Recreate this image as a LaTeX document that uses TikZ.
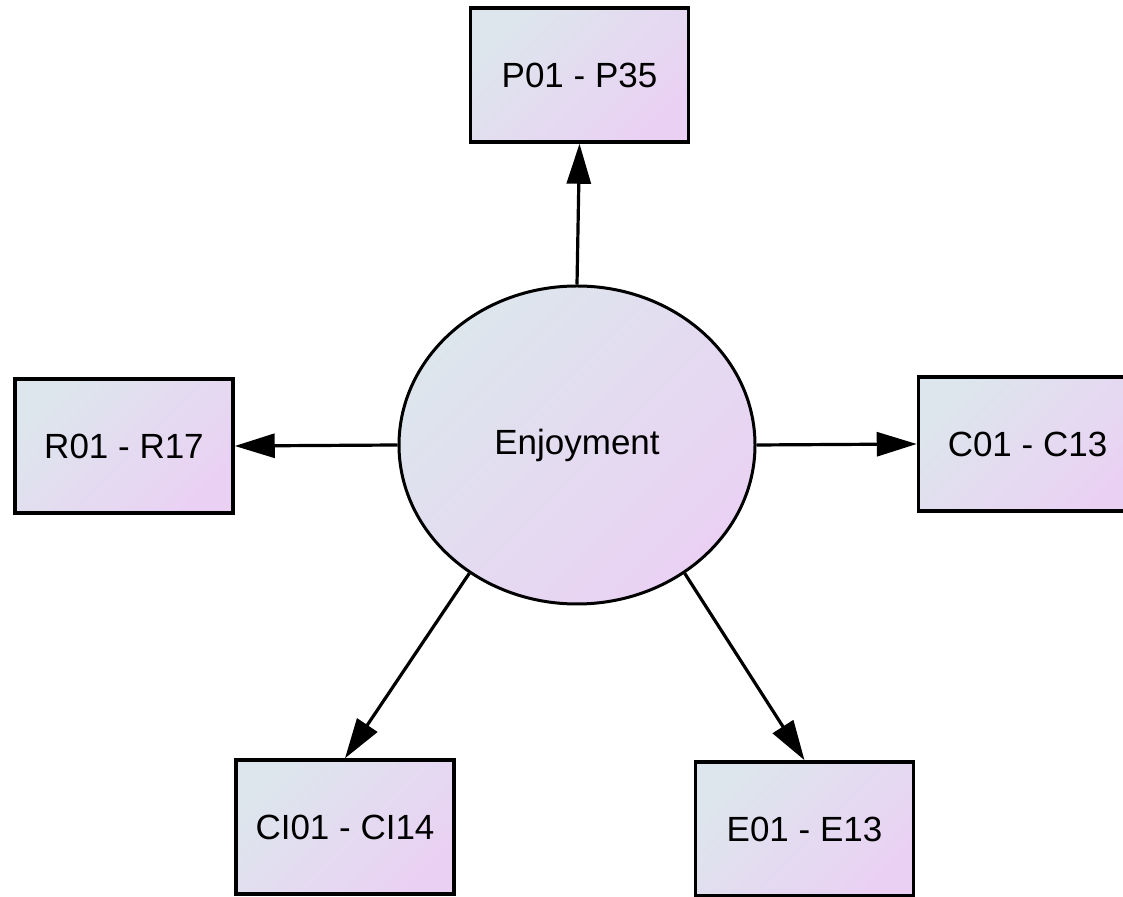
\documentclass[tikz,border=0pt]{standalone}
\usepackage{fontspec}
\setmainfont{Liberation Sans}
\usetikzlibrary{shapes.geometric,arrows.meta}
\definecolor{fillA}{RGB}{221,230,236}
\definecolor{fillB}{RGB}{234,209,244}
\tikzset{
  gradfill/.style={left color=fillA, right color=fillB, shading angle=45},
  itembox/.style={rectangle, draw=black, line width=3.5pt, gradfill, minimum width=218pt, minimum height=134pt, inner sep=0pt, font=\fontsize{35}{42}\selectfont},
  latent/.style={ellipse, draw=black, line width=3pt, gradfill, minimum width=356pt, minimum height=318pt, inner sep=0pt, font=\fontsize{35}{42}\selectfont},
  conn/.style={line width=3.2pt, -{Triangle[length=40pt,width=24pt]}}
}
\begin{document}
\begin{tikzpicture}[x=1pt,y=1pt]
\clip (0,0) rectangle (1123,896);
\fill[white] (0,0) rectangle (1123,896);
\node[latent] (enj) at (577,451) {Enjoyment};
\node[itembox] (P) at (579.5,821) {P01 - P35};
\node[itembox] (R) at (124,450) {R01 - R17};
\node[itembox] (C) at (1027.5,452) {C01 - C13};
\node[itembox] (CI) at (345,69) {CI01 - CI14};
\node[itembox] (E) at (804.5,67) {E01 - E13};
\draw[conn] (enj.north) -- (P.south);
\draw[conn] (enj.west) -- (R.east);
\draw[conn] (enj.east) -- (C.west);
\draw[conn] (enj.230) -- (CI.north);
\draw[conn] (enj.310) -- (E.north);
\end{tikzpicture}
\end{document}
